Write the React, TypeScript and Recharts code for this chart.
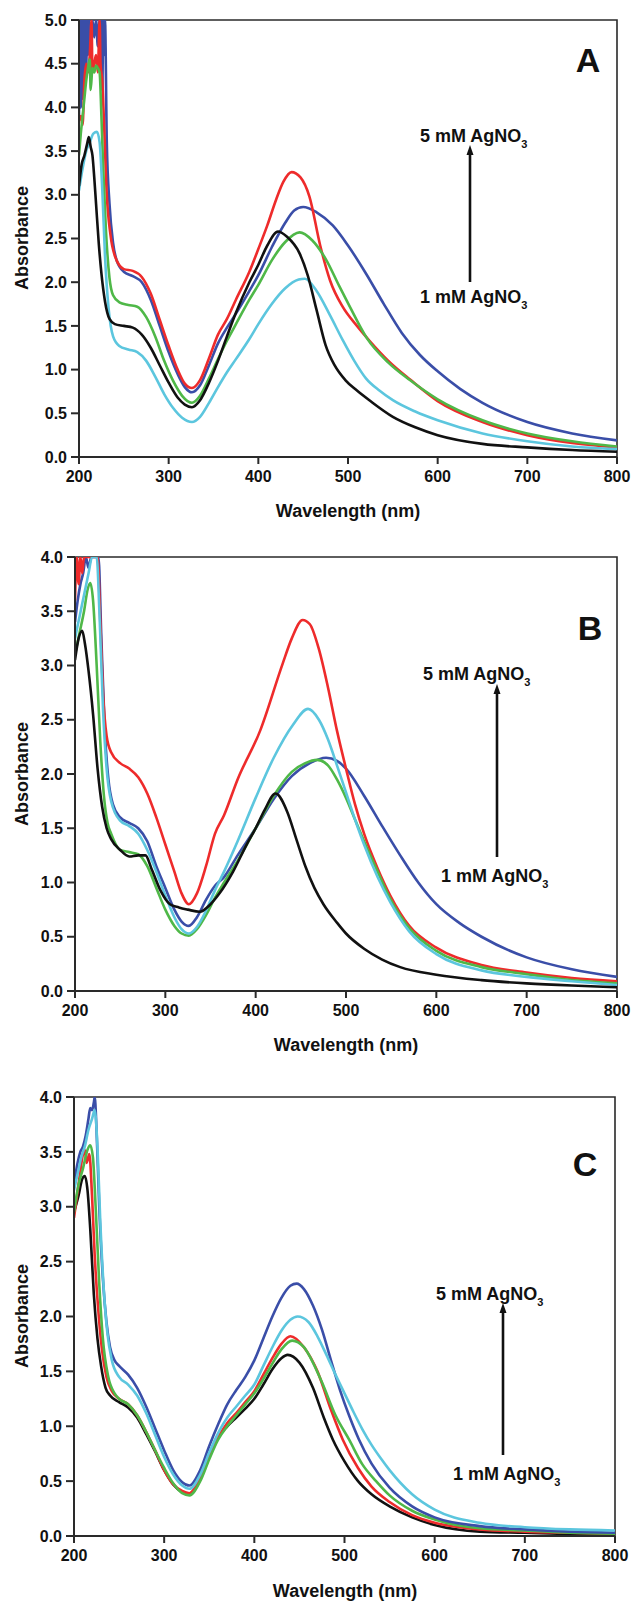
import { Line, LineChart, ReferenceArea, XAxis, YAxis } from "recharts";

type Pt = [number, number];

const X_TICKS = [200, 300, 400, 500, 600, 700, 800];
const Y_TICKS_A = [0, 0.5, 1, 1.5, 2, 2.5, 3, 3.5, 4, 4.5, 5];
const Y_TICKS_BC = [0, 0.5, 1, 1.5, 2, 2.5, 3, 3.5, 4];

const COLORS = {
  black: "#111111",
  red: "#ee2b2b",
  blue: "#3a4ea8",
  green: "#4fb848",
  cyan: "#5cc6de",
};

// ---- panel A ----
const aBlue: Pt[] = [
  [200, 3.9], [201, 5], [202, 4.0], [203, 5], [204, 4.1], [205, 5], [206, 4.2], [207, 5], [208, 4.4], [209, 5],
  [210, 4.6], [211, 5], [213, 4.7], [215, 5], [217, 4.8], [219, 5], [221, 4.7], [223, 5], [224, 4.4], [225, 5],
  [226, 4.2], [227, 5], [228, 4.6], [229, 5], [231, 3.6], [234, 2.9], [238, 2.45], [242, 2.25], [250, 2.12],
  [260, 2.07], [270, 2.0], [280, 1.8], [290, 1.5], [300, 1.2], [310, 0.95], [318, 0.8], [326, 0.74], [335, 0.82],
  [345, 1.05], [355, 1.3], [365, 1.48], [375, 1.64], [390, 1.9], [400, 2.08], [415, 2.4], [430, 2.68], [440, 2.82],
  [450, 2.86], [465, 2.8], [483, 2.65], [500, 2.42], [520, 2.1], [540, 1.75], [560, 1.42], [580, 1.17],
  [600, 0.98], [625, 0.78], [650, 0.62], [700, 0.4], [750, 0.27], [800, 0.19],
];
const aRed: Pt[] = [
  [200, 3.85], [202, 3.9], [204, 3.8], [206, 4.3], [208, 4.5], [210, 4.4], [212, 4.6], [214, 5], [215, 4.4],
  [217, 4.5], [219, 4.6], [221, 4.4], [223, 5], [224, 4.5], [226, 4.3], [228, 3.8], [231, 3.0], [235, 2.55],
  [240, 2.3], [250, 2.15], [260, 2.13], [270, 2.06], [280, 1.87], [290, 1.57], [300, 1.27], [310, 1.0],
  [318, 0.84], [326, 0.79], [335, 0.88], [345, 1.13], [355, 1.4], [365, 1.58], [375, 1.8], [390, 2.12],
  [400, 2.38], [410, 2.65], [420, 2.95], [428, 3.15], [437, 3.26], [447, 3.2], [457, 2.98], [469, 2.42],
  [480, 2.02], [494, 1.72], [510, 1.5], [524, 1.33], [545, 1.1], [570, 0.88], [600, 0.64], [650, 0.4],
  [700, 0.25], [750, 0.16], [800, 0.11],
];
const aGreen: Pt[] = [
  [200, 3.45], [202, 3.7], [204, 3.9], [206, 4.1], [208, 4.3], [210, 4.45], [212, 4.55], [213, 4.2], [215, 4.45],
  [217, 4.4], [219, 4.48], [221, 4.45], [223, 4.4], [225, 3.9], [227, 3.3], [230, 2.6], [234, 2.05], [238, 1.85],
  [245, 1.77], [255, 1.74], [265, 1.72], [275, 1.6], [285, 1.38], [295, 1.1], [305, 0.87], [315, 0.7],
  [326, 0.62], [335, 0.7], [345, 0.9], [355, 1.12], [365, 1.33], [375, 1.52], [390, 1.8], [400, 1.97],
  [415, 2.25], [430, 2.46], [446, 2.57], [460, 2.48], [476, 2.25], [490, 1.96], [502, 1.72], [521, 1.36],
  [545, 1.08], [569, 0.88], [600, 0.66], [650, 0.42], [700, 0.27], [750, 0.18], [800, 0.12],
];
const aCyan: Pt[] = [
  [200, 3.05], [204, 3.3], [208, 3.5], [212, 3.6], [216, 3.7], [220, 3.72], [223, 3.6], [226, 3.05], [229, 2.3],
  [233, 1.7], [238, 1.38], [245, 1.27], [255, 1.23], [265, 1.2], [275, 1.1], [285, 0.92], [295, 0.72],
  [305, 0.56], [315, 0.45], [326, 0.4], [335, 0.46], [345, 0.62], [355, 0.8], [365, 0.97], [375, 1.12],
  [390, 1.35], [400, 1.52], [415, 1.75], [430, 1.93], [445, 2.03], [452, 2.04], [465, 1.9], [480, 1.62],
  [494, 1.34], [507, 1.1], [520, 0.9], [535, 0.76], [550, 0.65], [575, 0.52], [600, 0.42], [650, 0.27],
  [700, 0.18], [750, 0.12], [800, 0.09],
];
const aBlack: Pt[] = [
  [200, 3.1], [203, 3.35], [206, 3.45], [209, 3.58], [211, 3.66], [213, 3.55], [215, 3.45], [217, 3.2],
  [219, 2.9], [222, 2.45], [225, 2.1], [229, 1.78], [234, 1.58], [240, 1.52], [250, 1.5], [260, 1.48],
  [270, 1.4], [280, 1.25], [290, 1.05], [300, 0.85], [310, 0.68], [318, 0.6], [326, 0.57], [335, 0.65],
  [345, 0.85], [355, 1.1], [365, 1.38], [375, 1.65], [390, 2.0], [400, 2.2], [410, 2.42], [422, 2.58],
  [432, 2.52], [446, 2.33], [455, 2.08], [465, 1.68], [475, 1.28], [485, 1.05], [497, 0.88], [510, 0.76],
  [525, 0.64], [550, 0.46], [575, 0.34], [600, 0.25], [650, 0.15], [700, 0.11], [750, 0.08], [800, 0.06],
];

// ---- panel B ----
const bRed: Pt[] = [
  [200, 3.6], [202, 4.0], [204, 3.75], [206, 4.0], [208, 3.85], [210, 4.0], [214, 4.0], [218, 4.0], [222, 4.0],
  [225, 4.0], [228, 3.4], [231, 2.75], [235, 2.35], [240, 2.2], [250, 2.1], [260, 2.05], [270, 1.97],
  [280, 1.82], [290, 1.6], [300, 1.35], [310, 1.1], [318, 0.9], [326, 0.8], [335, 0.9], [345, 1.15],
  [355, 1.45], [365, 1.62], [380, 1.95], [405, 2.4], [430, 3.02], [440, 3.25], [452, 3.42], [460, 3.38],
  [470, 3.15], [480, 2.8], [490, 2.4], [500, 2.05], [510, 1.72], [520, 1.45], [535, 1.13], [549, 0.88],
  [570, 0.6], [600, 0.4], [650, 0.24], [700, 0.17], [750, 0.12], [800, 0.09],
];
const bBlue: Pt[] = [
  [200, 3.4], [203, 3.6], [206, 3.75], [209, 3.85], [212, 4.0], [215, 3.9], [218, 4.0], [222, 4.0], [226, 4.0],
  [229, 3.3], [233, 2.4], [237, 1.95], [242, 1.72], [250, 1.6], [260, 1.55], [270, 1.5], [280, 1.38],
  [290, 1.15], [300, 0.95], [310, 0.75], [318, 0.64], [326, 0.6], [335, 0.68], [345, 0.84], [355, 0.97],
  [365, 1.05], [380, 1.25], [400, 1.5], [420, 1.77], [440, 1.98], [460, 2.1], [478, 2.15], [490, 2.12],
  [500, 2.05], [520, 1.8], [540, 1.52], [560, 1.25], [580, 1.0], [600, 0.8], [625, 0.63], [650, 0.5],
  [700, 0.31], [750, 0.2], [800, 0.13],
];
const bGreen: Pt[] = [
  [200, 3.1], [205, 3.3], [210, 3.5], [214, 3.7], [217, 3.76], [220, 3.6], [224, 3.0], [228, 2.3], [232, 1.8],
  [236, 1.55], [240, 1.45], [250, 1.3], [260, 1.28], [270, 1.26], [280, 1.15], [290, 0.95], [300, 0.75],
  [310, 0.6], [318, 0.53], [326, 0.51], [335, 0.57], [345, 0.7], [355, 0.86], [365, 1.0], [380, 1.2],
  [400, 1.5], [420, 1.8], [440, 2.02], [455, 2.1], [468, 2.13], [480, 2.08], [490, 1.95], [500, 1.78],
  [510, 1.58], [520, 1.38], [535, 1.1], [549, 0.85], [570, 0.58], [600, 0.37], [650, 0.22], [700, 0.155],
  [750, 0.1], [800, 0.07],
];
const bCyan: Pt[] = [
  [200, 3.25], [205, 3.45], [210, 3.65], [215, 3.85], [219, 4.0], [224, 4.0], [227, 3.5], [231, 2.6],
  [235, 2.05], [240, 1.75], [250, 1.57], [260, 1.52], [270, 1.45], [280, 1.3], [290, 1.1], [300, 0.88],
  [310, 0.68], [318, 0.57], [326, 0.53], [335, 0.59], [345, 0.74], [355, 0.93], [365, 1.1], [380, 1.38],
  [400, 1.78], [420, 2.15], [441, 2.45], [458, 2.6], [470, 2.5], [480, 2.32], [490, 2.08], [500, 1.83],
  [510, 1.58], [520, 1.35], [535, 1.05], [549, 0.82], [570, 0.55], [600, 0.34], [650, 0.19], [700, 0.13],
  [750, 0.09], [800, 0.055],
];
const bBlack: Pt[] = [
  [200, 3.05], [204, 3.25], [208, 3.32], [211, 3.2], [215, 2.95], [220, 2.55], [225, 2.05], [230, 1.7],
  [235, 1.5], [240, 1.4], [250, 1.3], [260, 1.24], [270, 1.25], [278, 1.25], [285, 1.12], [295, 0.92],
  [305, 0.8], [315, 0.77], [325, 0.75], [338, 0.73], [350, 0.8], [360, 0.9], [375, 1.1], [390, 1.35],
  [400, 1.5], [410, 1.67], [422, 1.82], [435, 1.65], [445, 1.4], [455, 1.15], [465, 0.95], [475, 0.8],
  [490, 0.63], [500, 0.53], [520, 0.39], [540, 0.29], [560, 0.22], [600, 0.15], [650, 0.1], [700, 0.07],
  [750, 0.05], [800, 0.035],
];

// ---- panel C ----
const cBlue: Pt[] = [
  [200, 3.2], [204, 3.4], [207, 3.5], [210, 3.55], [213, 3.65], [216, 3.8], [218, 3.9], [220, 3.88], [222, 3.95],
  [223, 4.0], [225, 3.7], [228, 3.0], [232, 2.35], [236, 1.95], [240, 1.72], [245, 1.6], [250, 1.55],
  [260, 1.47], [270, 1.35], [280, 1.18], [290, 0.98], [300, 0.78], [310, 0.6], [320, 0.49], [328, 0.46],
  [340, 0.6], [350, 0.82], [360, 1.02], [370, 1.2], [380, 1.33], [390, 1.45], [400, 1.6], [410, 1.8],
  [420, 2.0], [430, 2.17], [440, 2.28], [447, 2.3], [455, 2.25], [465, 2.1], [475, 1.88], [485, 1.6],
  [495, 1.33], [505, 1.1], [516, 0.88], [530, 0.66], [550, 0.44], [575, 0.27], [600, 0.17], [650, 0.09],
  [700, 0.06], [750, 0.04], [800, 0.03],
];
const cCyan: Pt[] = [
  [200, 3.15], [204, 3.3], [208, 3.45], [212, 3.55], [216, 3.7], [220, 3.8], [223, 3.88], [226, 3.55],
  [229, 2.9], [233, 2.25], [237, 1.85], [242, 1.6], [250, 1.45], [260, 1.38], [270, 1.28], [280, 1.12],
  [290, 0.92], [300, 0.72], [310, 0.56], [320, 0.46], [328, 0.43], [340, 0.56], [350, 0.76], [360, 0.94],
  [370, 1.08], [380, 1.18], [390, 1.28], [400, 1.38], [410, 1.55], [420, 1.72], [430, 1.87], [440, 1.97],
  [448, 2.0], [460, 1.95], [470, 1.82], [480, 1.65], [490, 1.47], [500, 1.3], [510, 1.13], [520, 0.97],
  [530, 0.83], [540, 0.71], [550, 0.6], [575, 0.38], [600, 0.24], [650, 0.12], [700, 0.08], [750, 0.06],
  [800, 0.05],
];
const cGreen: Pt[] = [
  [200, 2.95], [205, 3.2], [210, 3.35], [215, 3.52], [218, 3.56], [221, 3.45], [224, 3.0], [228, 2.3],
  [232, 1.8], [238, 1.45], [245, 1.3], [250, 1.25], [260, 1.2], [270, 1.1], [280, 0.95], [290, 0.78],
  [300, 0.62], [310, 0.48], [320, 0.39], [328, 0.37], [340, 0.5], [350, 0.7], [360, 0.88], [370, 1.0],
  [380, 1.1], [390, 1.2], [400, 1.3], [410, 1.43], [420, 1.57], [430, 1.7], [442, 1.78], [455, 1.72],
  [465, 1.58], [475, 1.4], [490, 1.1], [505, 0.88], [520, 0.65], [535, 0.5], [550, 0.37], [575, 0.23],
  [600, 0.15], [650, 0.07], [700, 0.05], [750, 0.03], [800, 0.02],
];
const cRed: Pt[] = [
  [200, 2.9], [205, 3.2], [210, 3.48], [212, 3.52], [214, 3.4], [217, 3.48], [220, 3.1], [223, 2.55],
  [227, 2.05], [231, 1.7], [236, 1.45], [242, 1.32], [250, 1.25], [260, 1.2], [270, 1.1], [280, 0.95],
  [290, 0.78], [300, 0.6], [310, 0.47], [320, 0.41], [328, 0.39], [340, 0.53], [350, 0.72], [360, 0.9],
  [370, 1.03], [380, 1.12], [390, 1.22], [400, 1.32], [410, 1.47], [420, 1.62], [430, 1.75], [440, 1.82],
  [455, 1.72], [470, 1.5], [485, 1.15], [498, 0.88], [515, 0.62], [530, 0.45], [550, 0.31], [575, 0.19],
  [600, 0.12], [650, 0.06], [700, 0.04], [750, 0.03], [800, 0.02],
];
const cBlack: Pt[] = [
  [200, 2.95], [205, 3.1], [209, 3.25], [212, 3.28], [215, 3.15], [218, 2.8], [222, 2.2], [226, 1.8],
  [230, 1.55], [235, 1.35], [240, 1.28], [250, 1.22], [260, 1.17], [270, 1.08], [280, 0.93], [290, 0.77],
  [300, 0.6], [310, 0.47], [320, 0.4], [328, 0.38], [340, 0.52], [350, 0.72], [360, 0.9], [370, 1.0],
  [380, 1.08], [390, 1.16], [400, 1.25], [410, 1.38], [420, 1.52], [430, 1.62], [437, 1.65], [450, 1.58],
  [465, 1.35], [477, 1.08], [487, 0.88], [500, 0.68], [515, 0.5], [530, 0.38], [550, 0.27], [575, 0.17],
  [600, 0.1], [650, 0.04], [700, 0.03], [750, 0.02], [800, 0.02],
];

const FONT = "'Liberation Sans', Arial, Helvetica, sans-serif";
const AXIS = "#2a2a2a";

type Series = { key: string; color: string; points: Pt[] };

interface PanelProps {
  top: number;
  height: number;
  marginTop: number;
  yAxisWidth: number;
  xAxisHeight: number;
  marginRight: number;
  yMax: number;
  yTicks: number[];
  series: Series[];
}

function Panel({ top, height, marginTop, yAxisWidth, xAxisHeight, marginRight, yMax, yTicks, series }: PanelProps) {
  const tick = { fontSize: 16, fontWeight: 700, fill: "#111", fontFamily: FONT };
  return (
    <div style={{ position: "absolute", left: 0, top, width: 633, height }}>
      <LineChart width={633} height={height} margin={{ top: marginTop, right: marginRight, bottom: 0, left: 0 }}>
        <XAxis
          type="number"
          dataKey="w"
          domain={[200, 800]}
          ticks={X_TICKS}
          allowDataOverflow
          height={xAxisHeight}
          tick={tick}
          tickSize={7}
          tickMargin={7}
          axisLine={{ stroke: AXIS, strokeWidth: 2 }}
          tickLine={{ stroke: AXIS, strokeWidth: 2 }}
        />
        <YAxis
          type="number"
          domain={[0, yMax]}
          ticks={yTicks}
          allowDataOverflow
          width={yAxisWidth}
          tickFormatter={(v: number) => v.toFixed(1)}
          tick={tick}
          tickSize={8}
          tickMargin={4}
          axisLine={{ stroke: AXIS, strokeWidth: 2 }}
          tickLine={{ stroke: AXIS, strokeWidth: 2 }}
        />
        <ReferenceArea x1={200} x2={800} y1={0} y2={yMax} fill="none" stroke={AXIS} strokeWidth={1.6} />
        {series.map((s) => (
          <Line
            key={s.key}
            data={s.points.map(([w, a]) => ({ w, a }))}
            dataKey="a"
            type="monotone"
            stroke={s.color}
            strokeWidth={2.6}
            dot={false}
            activeDot={false}
            isAnimationActive={false}
          />
        ))}
      </LineChart>
    </div>
  );
}

function Conc({ x, y, n }: { x: number; y: number; n: string }) {
  return (
    <text x={x} y={y} fontFamily={FONT} fontWeight={700} fontSize={18} fill="#111">
      {n} mM AgNO
      <tspan fontSize={11} dy={6}>3</tspan>
    </text>
  );
}

function Arrow({ x, y1, y2 }: { x: number; y1: number; y2: number }) {
  return (
    <g>
      <line x1={x} y1={y1} x2={x} y2={y2 + 8} stroke="#111" strokeWidth={2.6} />
      <polygon points={`${x - 3.5},${y2 + 10} ${x + 3.5},${y2 + 10} ${x},${y2}`} fill="#111" />
    </g>
  );
}

function Titles() {
  const title = { fontFamily: FONT, fontWeight: 700, fontSize: 18, fill: "#111" } as const;
  const yTitles = [238, 774, 1316];
  const xTitles = [
    { x: 348, y: 517 },
    { x: 346, y: 1051 },
    { x: 345, y: 1597 },
  ];
  return (
    <svg width={633} height={1602} style={{ position: "absolute", left: 0, top: 0, pointerEvents: "none" }}>
      {yTitles.map((cy) => (
        <text key={cy} {...title} x={0} y={0} textAnchor="middle" transform={`translate(28 ${cy}) rotate(-90)`}>
          Absorbance
        </text>
      ))}
      {xTitles.map((t) => (
        <text key={t.y} {...title} x={t.x} y={t.y} textAnchor="middle">
          Wavelength (nm)
        </text>
      ))}

      <text x={588} y={72} textAnchor="middle" fontFamily={FONT} fontWeight={700} fontSize={34} fill="#111">A</text>
      <Conc x={420} y={142} n="5" />
      <Arrow x={470} y1={282} y2={145} />
      <Conc x={420} y={303} n="1" />

      <text x={590} y={640} textAnchor="middle" fontFamily={FONT} fontWeight={700} fontSize={34} fill="#111">B</text>
      <Conc x={423} y={680} n="5" />
      <Arrow x={497} y1={857} y2={684} />
      <Conc x={441} y={882} n="1" />

      <text x={585} y={1176} textAnchor="middle" fontFamily={FONT} fontWeight={700} fontSize={34} fill="#111">C</text>
      <Conc x={436} y={1300} n="5" />
      <Arrow x={503} y1={1455} y2={1303} />
      <Conc x={453} y={1480} n="1" />
    </svg>
  );
}

export default function App() {
  const sA: Series[] = [
    { key: "blue", color: COLORS.blue, points: aBlue },
    { key: "red", color: COLORS.red, points: aRed },
    { key: "green", color: COLORS.green, points: aGreen },
    { key: "cyan", color: COLORS.cyan, points: aCyan },
    { key: "black", color: COLORS.black, points: aBlack },
  ];
  const sB: Series[] = [
    { key: "blue", color: COLORS.blue, points: bBlue },
    { key: "red", color: COLORS.red, points: bRed },
    { key: "green", color: COLORS.green, points: bGreen },
    { key: "cyan", color: COLORS.cyan, points: bCyan },
    { key: "black", color: COLORS.black, points: bBlack },
  ];
  const sC: Series[] = [
    { key: "black", color: COLORS.black, points: cBlack },
    { key: "red", color: COLORS.red, points: cRed },
    { key: "green", color: COLORS.green, points: cGreen },
    { key: "blue", color: COLORS.blue, points: cBlue },
    { key: "cyan", color: COLORS.cyan, points: cCyan },
  ];
  return (
    <div style={{ position: "absolute", left: 0, top: 0, width: 633, height: 1602, background: "#fff" }}>
      <Panel top={0} height={530} marginTop={20} yAxisWidth={79} xAxisHeight={73} marginRight={16} yMax={5} yTicks={Y_TICKS_A} series={sA} />
      <Panel top={530} height={530} marginTop={27} yAxisWidth={75} xAxisHeight={69} marginRight={16} yMax={4} yTicks={Y_TICKS_BC} series={sB} />
      <Panel top={1060} height={542} marginTop={37} yAxisWidth={74} xAxisHeight={66} marginRight={18} yMax={4} yTicks={Y_TICKS_BC} series={sC} />
      <Titles />
    </div>
  );
}
